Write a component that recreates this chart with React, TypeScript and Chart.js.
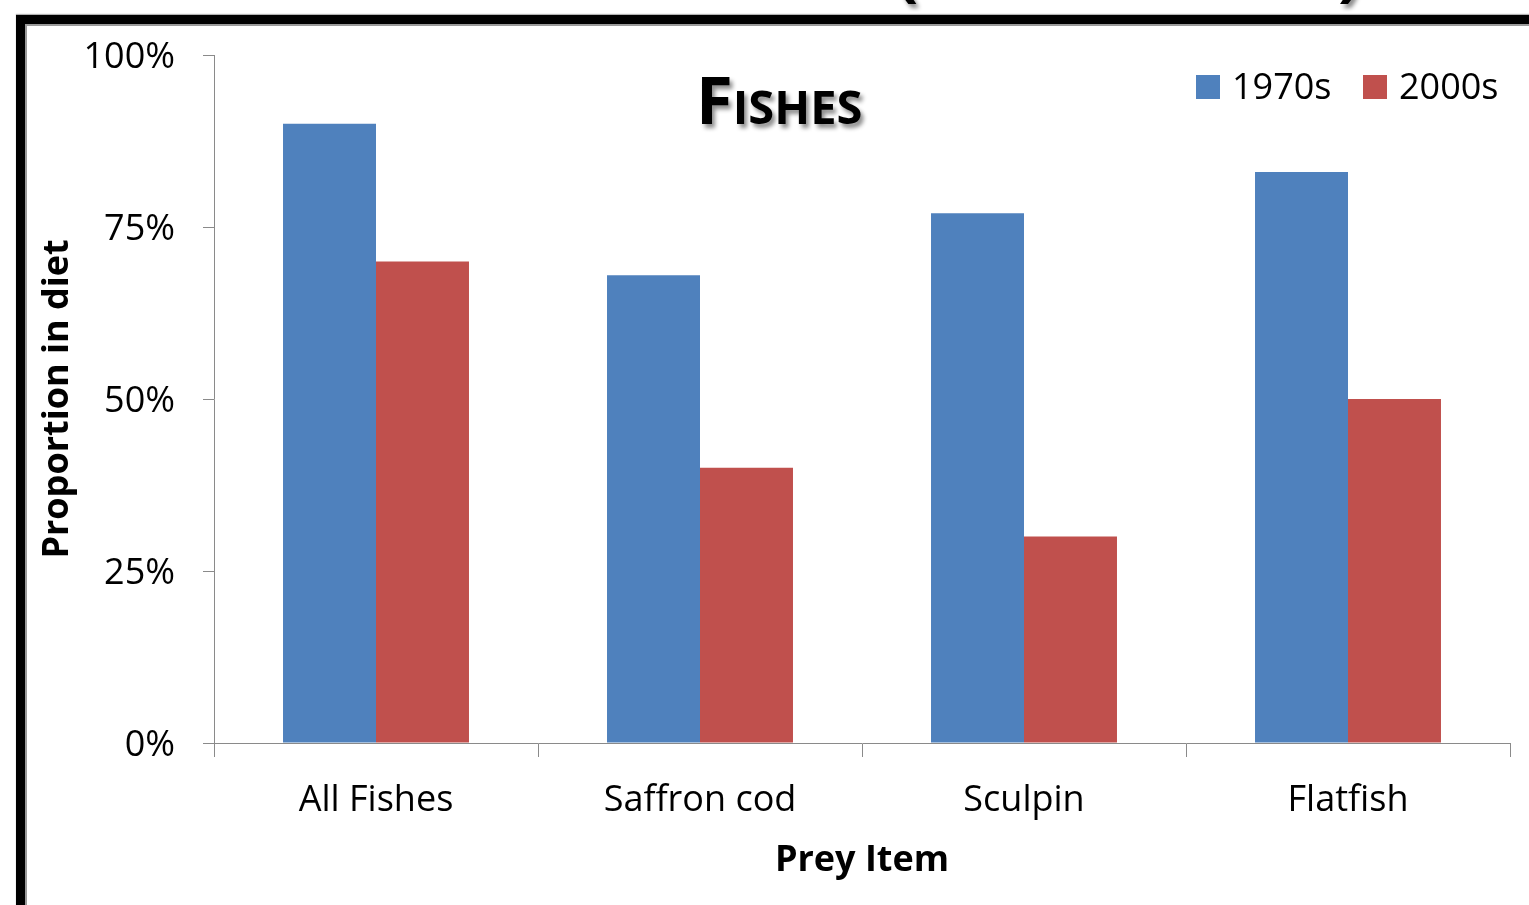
import React, { useEffect, useRef } from "react";
import { Chart, registerables } from "chart.js";

Chart.register(...registerables);

const categories = ["All Fishes", "Saffron cod", "Sculpin", "Flatfish"];
const seriesLabels = ["1970s", "2000s"];
const values1970s = [90, 68, 77, 83];
const values2000s = [70, 40, 30, 50];
const seriesColors = ["#4F81BD", "#C0504D"];
const yTickValues = [0, 25, 50, 75, 100];
const chartTitle = "Fishes";
const xTitle = "Prey Item";
const yTitle = "Proportion in diet";

const FONT = "'Open Sans', sans-serif";
const AXIS_GRAY = "#8a8a8a";

export default function App() {
  const canvasRef = useRef<HTMLCanvasElement | null>(null);

  useEffect(() => {
    const canvas = canvasRef.current;
    if (!canvas) return;
    const chart = new Chart(canvas, {
      type: "bar",
      data: {
        labels: categories,
        datasets: [
          {
            label: seriesLabels[0],
            data: values1970s,
            backgroundColor: seriesColors[0],
            borderWidth: 0,
            categoryPercentage: 0.574,
            barPercentage: 1,
          },
          {
            label: seriesLabels[1],
            data: values2000s,
            backgroundColor: seriesColors[1],
            borderWidth: 0,
            categoryPercentage: 0.574,
            barPercentage: 1,
          },
        ],
      },
      options: {
        animation: false,
        responsive: true,
        maintainAspectRatio: false,
        layout: { padding: { left: 0, top: 55, right: 19, bottom: 0 } },
        plugins: {
          legend: { display: false },
          title: { display: false },
          tooltip: { enabled: false },
        },
        scales: {
          x: {
            grid: {
              display: true,
              offset: true,
              drawOnChartArea: false,
              drawTicks: true,
              tickLength: 14,
              color: AXIS_GRAY,
              lineWidth: 1,
            },
            border: { display: true, color: AXIS_GRAY, width: 1 },
            ticks: {
              color: "#000",
              font: { family: FONT, size: 36 },
              padding: 22,
              maxRotation: 0,
            },
            title: {
              display: true,
              text: xTitle,
              color: "#000",
              font: { family: FONT, size: 36, weight: "bold" },
              padding: { top: 0, bottom: 23 },
            },
            afterFit: (scale: any) => {
              scale.height = 162;
            },
          },
          y: {
            min: 0,
            max: 100,
            afterBuildTicks: (scale: any) => {
              scale.ticks = yTickValues.map((v) => ({ value: v }));
            },
            grid: {
              display: true,
              drawOnChartArea: false,
              drawTicks: true,
              tickLength: 11,
              color: AXIS_GRAY,
              lineWidth: 1,
            },
            border: { display: true, color: AXIS_GRAY, width: 1 },
            ticks: {
              color: "#000",
              font: { family: FONT, size: 36 },
              padding: 28,
              labelOffset: 3,
              callback: (v: any) => `${v}%`,
            },
            title: {
              display: true,
              text: yTitle,
              color: "#000",
              font: { family: FONT, size: 36, weight: "bold" },
              padding: { top: 36, bottom: 0 },
            },
            afterFit: (scale: any) => {
              scale.width = 214;
            },
          },
        },
      },
    });
    return () => chart.destroy();
  }, []);

  const legendText: React.CSSProperties = {
    position: "absolute",
    fontFamily: FONT,
    fontSize: 36,
    lineHeight: "36px",
    color: "#000",
    whiteSpace: "nowrap",
  };
  const parenStyle: React.CSSProperties = {
    position: "absolute",
    fontFamily: FONT,
    fontWeight: 700,
    fontSize: 66,
    lineHeight: "66px",
    color: "#000",
    textShadow: "3px 4px 4px rgba(0,0,0,0.45)",
  };

  return (
    <div
      style={{
        position: "fixed",
        left: 0,
        top: 0,
        width: "100vw",
        height: "100vh",
        overflow: "hidden",
        background: "#fff",
      }}
    >
      {/* slide title fragments peeking above the frame */}
      <span style={{ ...parenStyle, left: 896, top: -65 }}>(</span>
      <span style={{ ...parenStyle, left: 1338, top: -65 }}>)</span>
      {/* frame */}
      <div
        style={{
          position: "absolute",
          left: 16,
          top: 15,
          width: 2000,
          height: 2000,
          borderTop: "9px solid #000",
          borderLeft: "9px solid #000",
          boxShadow: "0 -1px 1px rgba(0,0,0,0.3)",
        }}
      >
        <div
          style={{
            position: "absolute",
            left: 0,
            top: 0,
            right: 0,
            bottom: 0,
            borderTop: "2px solid #9a9a9a",
            borderLeft: "2px solid #9a9a9a",
          }}
        />
      </div>
      <div style={{ position: "absolute", left: 0, top: 0, width: 1529, height: 905 }}>
        <canvas ref={canvasRef} />
      </div>
      {/* chart title */}
      <div
        style={{
          position: "absolute",
          left: 696,
          top: 65,
          fontFamily: FONT,
          fontWeight: 700,
          fontSize: 67,
          lineHeight: "67px",
          fontVariant: "small-caps",
          color: "#000",
          textShadow: "3px 4px 4px rgba(0,0,0,0.45)",
          whiteSpace: "nowrap",
        }}
      >
        {chartTitle}
      </div>
      {/* legend */}
      <div style={{ position: "absolute", left: 1196, top: 75, width: 24, height: 24, background: seriesColors[0] }} />
      <div style={{ ...legendText, left: 1232, top: 68 }}>{seriesLabels[0]}</div>
      <div style={{ position: "absolute", left: 1363, top: 75, width: 24, height: 24, background: seriesColors[1] }} />
      <div style={{ ...legendText, left: 1399, top: 68 }}>{seriesLabels[1]}</div>
    </div>
  );
}
